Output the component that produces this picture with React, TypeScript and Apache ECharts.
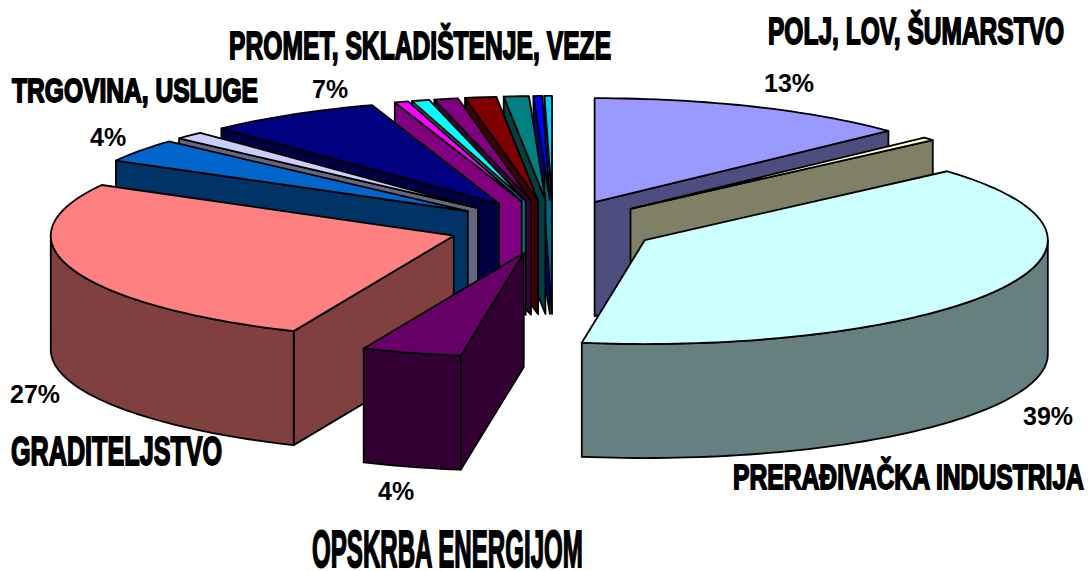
import React, { useEffect, useRef } from "react";
import * as echarts from "echarts";

// Slice shares in percent, clockwise from 12 o'clock
const sliceNames = [
  "POLJ, LOV, ŠUMARSTVO", "slice 2", "PRERAĐIVAČKA INDUSTRIJA", "OPSKRBA ENERGIJOM",
  "GRADITELJSTVO", "TRGOVINA, USLUGE", "slice 7", "PROMET, SKLADIŠTENJE, VEZE",
  "slice 9", "slice 10", "slice 11", "slice 12", "slice 13", "slice 14", "slice 15",
];
const sliceValues = [13, 0.5, 39, 4, 26.6, 3.6, 1.2, 7, 0.55, 0.7, 0.95, 1.25, 1.0, 0.35, 0.3];
const sliceColors = [
  "#9999FF", "#FFFFCC", "#CCFFFF", "#660066", "#FF8080", "#0066CC", "#CCCCFF", "#000080",
  "#FF00FF", "#00FFFF", "#800080", "#800000", "#008080", "#0000FF", "#00CCFF",
];

// Pie geometry
const CX = 553, CY = 227, RX = 403, RY = 104, DEPTH = 114, EXPLODE = 0.26;

// Category captions: text, left, right, cap top, baseline
const captions: [string, number, number, number, number][] = [
  ["PROMET, SKLADIŠTENJE, VEZE", 229, 611, 32, 60],
  ["POLJ, LOV, ŠUMARSTVO", 768, 1064, 17, 44],
  ["TRGOVINA, USLUGE", 12, 258, 78, 102],
  ["GRADITELJSTVO", 11, 222, 437, 466],
  ["PRERAĐIVAČKA INDUSTRIJA", 733, 1085, 464, 489],
  ["OPSKRBA ENERGIJOM", 312, 584, 531, 568],
];
// Percent labels: slice index, left, vertical centre
const percentLabels: [number, number, number][] = [
  [0, 764, 83], [2, 1023, 416], [3, 378, 491], [4, 10, 394], [5, 90, 137], [7, 312, 89],
];

const FONT = '"Liberation Sans", Arial, sans-serif';

function measure(text: string, size: number) {
  const ctx = document.createElement("canvas").getContext("2d")!;
  ctx.font = `bold ${size}px ${FONT}`;
  return ctx.measureText(text).width;
}

function shade(hex: string) {
  const n = parseInt(hex.slice(1), 16);
  const c = (v: number) => Math.round(v / 2);
  return `rgb(${c((n >> 16) & 255)},${c((n >> 8) & 255)},${c(n & 255)})`;
}

const total = sliceValues.reduce((a, b) => a + b, 0);
let running = 0;
const seriesData = sliceValues.map((v) => {
  const row = [v, running];
  running += v;
  return row;
});

function renderSlice(params: any, api: any) {
  const i = params.dataIndex;
  const start = (api.value(1) / total) * 360;
  const end = ((api.value(1) + api.value(0)) / total) * 360;
  const mid = (start + end) / 2;
  const pt = (deg: number, r = 1): [number, number] => {
    const a = (deg * Math.PI) / 180;
    return [RX * r * Math.sin(a), -RY * r * Math.cos(a)];
  };
  const off = pt(mid, EXPLODE);
  const ax = CX + off[0], ay = CY + off[1];
  const at = (deg: number): [number, number] => {
    const p = pt(deg);
    return [ax + p[0], ay + p[1]];
  };
  const arc = (from: number, to: number) => {
    const pts: [number, number][] = [];
    const n = Math.max(2, Math.ceil((to - from) / 1.5));
    for (let k = 0; k <= n; k++) pts.push(at(from + ((to - from) * k) / n));
    return pts;
  };
  const down = (p: [number, number]): [number, number] => [p[0], p[1] + DEPTH];
  const top: [number, number][] = [[ax, ay], ...arc(start, end)];
  const side = shade(sliceColors[i]);
  const z = Math.round(-Math.cos((mid * Math.PI) / 180) * 1000) + 2000;
  const sideStyle = { fill: side, stroke: "#000", lineWidth: 1.8, lineJoin: "round" };
  const children: any[] = [];
  const s = at(start), e = at(end);
  if (s[0] < ax) {
    children.push({ type: "polygon", z2: z, shape: { points: [[ax, ay], s, down(s), [ax, ay + DEPTH]] }, style: sideStyle });
  }
  if (e[0] > ax) {
    children.push({ type: "polygon", z2: z + 1, shape: { points: [e, [ax, ay], [ax, ay + DEPTH], down(e)] }, style: sideStyle });
  }
  const from = Math.max(start, 90), to = Math.min(end, 270);
  if (to > from) {
    const band = arc(from, to);
    children.push({
      type: "polygon", z2: z + 2,
      shape: { points: [...band, ...band.slice().reverse().map(down)] },
      style: sideStyle,
    });
  }
  children.push({
    type: "polygon", z2: z + 3,
    shape: { points: top },
    style: { fill: sliceColors[i], stroke: "#000", lineWidth: 1.8, lineJoin: "round" },
  });
  return { type: "group", children };
}

function buildGraphics() {
  const out: any[] = [];
  captions.forEach(([text, left, right, capTop, base]) => {
    const size = (base - capTop) / 0.72;
    out.push({
      type: "text", x: left, y: (capTop + base) / 2, scaleX: (right - left) / measure(text, size),
      style: {
        text, fontFamily: FONT, fontWeight: "bold", fontSize: size,
        verticalAlign: "middle", align: "left", fill: "#000", stroke: "#000", lineWidth: 1.8,
      },
    });
  });
  percentLabels.forEach(([idx, left, mid]) => {
    out.push({
      type: "text", x: left, y: mid,
      style: {
        text: `${Math.round(sliceValues[idx])}%`, fontFamily: FONT, fontWeight: "bold", fontSize: 25,
        verticalAlign: "middle", align: "left", fill: "#000",
      },
    });
  });
  return out;
}

export default function App() {
  const ref = useRef<HTMLDivElement>(null);
  useEffect(() => {
    document.body.style.margin = "0";
    const chart = echarts.init(ref.current!, undefined, { renderer: "svg" });
    chart.setOption({
      animation: false,
      backgroundColor: "#fff",
      graphic: buildGraphics(),
      series: [{
        type: "custom",
        coordinateSystem: "none",
        renderItem: renderSlice,
        data: seriesData.map((d, i) => ({ name: sliceNames[i], value: d })),
        silent: true,
      }],
    });
    return () => chart.dispose();
  }, []);
  return <div ref={ref} style={{ width: 1088, height: 571 }} />;
}
